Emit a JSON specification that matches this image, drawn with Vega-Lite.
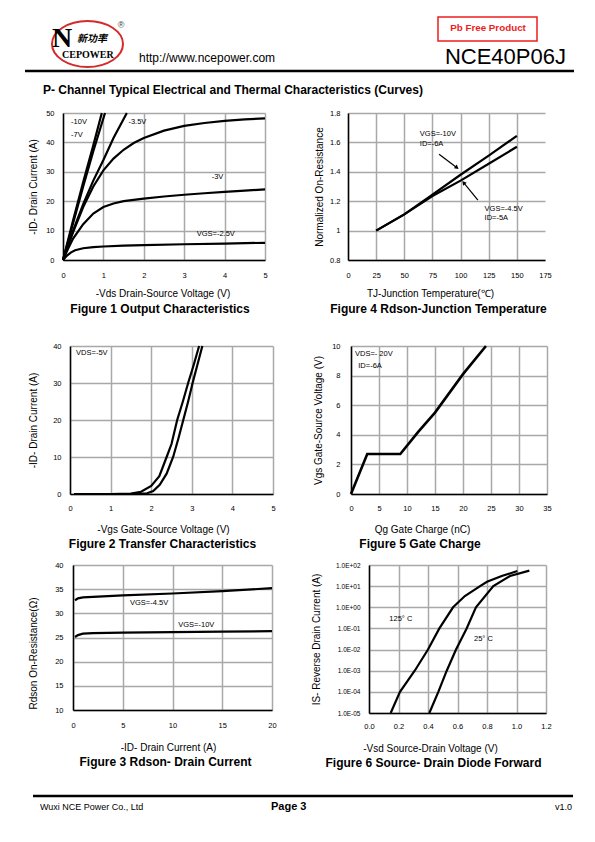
{
"$schema": "https://vega.github.io/schema/vega-lite/v6.json",
"padding": 0,
"background": "white",
"spacing": 0,
"vconcat": [
{
 "width": 595, "height": 108,
 "data": {"values": [{}]},
 "layer": [
  {"mark": {"type": "point", "shape": "M-1,0A1,0.648,0,1,1,1,0A1,0.648,0,1,1,-1,0Z", "size": 5041, "filled": false, "color": "#d42a2a", "strokeWidth": 2, "opacity": 1},
   "encoding": {"x": {"datum": 87.5, "type": "quantitative", "scale": {"domain": [0, 595], "nice": false}, "axis": null}, "y": {"datum": 44, "type": "quantitative", "scale": {"domain": [0, 108], "nice": false, "reverse": true}, "axis": null}}},
  {"mark": {"type": "text", "text": "N", "font": "Liberation Serif", "fontWeight": "bold", "fontSize": 28, "align": "left", "baseline": "alphabetic", "color": "#000"},
   "encoding": {"x": {"datum": 52, "type": "quantitative", "scale": {"domain": [0, 595], "nice": false}, "axis": null}, "y": {"datum": 47, "type": "quantitative", "scale": {"domain": [0, 108], "nice": false, "reverse": true}, "axis": null}}},
  {"mark": {"type": "text", "text": "新功率", "font": "Noto Sans CJK SC", "fontWeight": "bold", "fontStyle": "italic", "fontSize": 10, "align": "left", "baseline": "alphabetic", "color": "#000"},
   "encoding": {"x": {"datum": 77, "type": "quantitative", "scale": {"domain": [0, 595], "nice": false}, "axis": null}, "y": {"datum": 42, "type": "quantitative", "scale": {"domain": [0, 108], "nice": false, "reverse": true}, "axis": null}}},
  {"mark": {"type": "text", "text": "CEPOWER", "font": "Liberation Serif", "fontWeight": "bold", "fontSize": 10, "align": "left", "baseline": "alphabetic", "color": "#000"},
   "encoding": {"x": {"datum": 62, "type": "quantitative", "scale": {"domain": [0, 595], "nice": false}, "axis": null}, "y": {"datum": 58, "type": "quantitative", "scale": {"domain": [0, 108], "nice": false, "reverse": true}, "axis": null}}},
  {"mark": {"type": "text", "text": "®", "font": "Liberation Sans", "fontSize": 9, "align": "center", "baseline": "middle", "color": "#444"},
   "encoding": {"x": {"datum": 121, "type": "quantitative", "scale": {"domain": [0, 595], "nice": false}, "axis": null}, "y": {"datum": 25, "type": "quantitative", "scale": {"domain": [0, 108], "nice": false, "reverse": true}, "axis": null}}},
  {"mark": {"type": "text", "text": "http://www.ncepower.com", "font": "Liberation Sans", "fontSize": 12, "align": "left", "baseline": "alphabetic", "color": "#000"},
   "encoding": {"x": {"datum": 139, "type": "quantitative", "scale": {"domain": [0, 595], "nice": false}, "axis": null}, "y": {"datum": 61.5, "type": "quantitative", "scale": {"domain": [0, 108], "nice": false, "reverse": true}, "axis": null}}},
  {"mark": {"type": "rect", "filled": false, "color": "#ee1c1c", "strokeWidth": 1.5},
   "encoding": {"x": {"datum": 438, "type": "quantitative", "scale": {"domain": [0, 595], "nice": false}, "axis": null}, "x2": {"datum": 537}, "y": {"datum": 17, "type": "quantitative", "scale": {"domain": [0, 108], "nice": false, "reverse": true}, "axis": null}, "y2": {"datum": 41}}},
  {"mark": {"type": "text", "text": "Pb Free Product", "font": "Liberation Sans", "fontWeight": "bold", "fontSize": 9.8, "align": "center", "baseline": "alphabetic", "color": "#ee1c1c"},
   "encoding": {"x": {"datum": 488, "type": "quantitative", "scale": {"domain": [0, 595], "nice": false}, "axis": null}, "y": {"datum": 30.7, "type": "quantitative", "scale": {"domain": [0, 108], "nice": false, "reverse": true}, "axis": null}}},
  {"mark": {"type": "text", "text": "NCE40P06J", "font": "Liberation Sans", "fontSize": 22, "align": "right", "baseline": "alphabetic", "color": "#000"},
   "encoding": {"x": {"datum": 566, "type": "quantitative", "scale": {"domain": [0, 595], "nice": false}, "axis": null}, "y": {"datum": 64, "type": "quantitative", "scale": {"domain": [0, 108], "nice": false, "reverse": true}, "axis": null}}},
  {"mark": {"type": "rule", "strokeWidth": 2.5, "color": "#000"},
   "encoding": {"x": {"datum": 25, "type": "quantitative", "scale": {"domain": [0, 595], "nice": false}, "axis": null}, "x2": {"datum": 574}, "y": {"datum": 71, "type": "quantitative", "scale": {"domain": [0, 108], "nice": false, "reverse": true}, "axis": null}}},
  {"mark": {"type": "text", "text": "P- Channel Typical Electrical and Thermal Characteristics (Curves)", "font": "Liberation Sans", "fontWeight": "bold", "fontSize": 12, "align": "left", "baseline": "alphabetic", "color": "#000"},
   "encoding": {"x": {"datum": 43, "type": "quantitative", "scale": {"domain": [0, 595], "nice": false}, "axis": null}, "y": {"datum": 93.5, "type": "quantitative", "scale": {"domain": [0, 108], "nice": false, "reverse": true}, "axis": null}}}
 ]
},
{
 "bounds": "flush", "spacing": 0,
 "hconcat": [
  {"width": 63, "height": 227, "data": {"values": []}, "mark": "point"},
  {
   "width": 202, "height": 147,
   "title": {"text": "Figure 1 Output Characteristics", "dx": -4, "offset": 5},
   "encoding": {
    "x": {"field": "x", "type": "quantitative", "scale": {"domain": [0, 5], "nice": false}, "axis": {"title": "-Vds Drain-Source Voltage (V)", "values": [0, 1, 2, 3, 4, 5], "labelPadding": 11, "titlePadding": 10, "titleX": 99.5}},
    "y": {"field": "y", "type": "quantitative", "scale": {"domain": [0, 50], "nice": false}, "axis": {"title": "-ID- Drain Current (A)", "values": [0, 10, 20, 30, 40, 50], "labelPadding": 9, "titlePadding": 7}}
   },
   "layer": [
    {"data": {"values": [
     {"s": "-10V", "x": 0, "y": 0}, {"s": "-10V", "x": 0.25, "y": 13.5}, {"s": "-10V", "x": 0.5, "y": 26.5}, {"s": "-10V", "x": 0.75, "y": 39}, {"s": "-10V", "x": 0.96, "y": 50},
     {"s": "-7V", "x": 0, "y": 0}, {"s": "-7V", "x": 0.25, "y": 12.5}, {"s": "-7V", "x": 0.5, "y": 25}, {"s": "-7V", "x": 0.75, "y": 37}, {"s": "-7V", "x": 1.04, "y": 50},
     {"s": "-4.5V", "x": 0, "y": 0}, {"s": "-4.5V", "x": 0.25, "y": 10}, {"s": "-4.5V", "x": 0.5, "y": 19}, {"s": "-4.5V", "x": 0.75, "y": 27}, {"s": "-4.5V", "x": 1, "y": 34}, {"s": "-4.5V", "x": 1.25, "y": 41.5}, {"s": "-4.5V", "x": 1.58, "y": 50},
     {"s": "-3.5V", "x": 0, "y": 0}, {"s": "-3.5V", "x": 0.25, "y": 9.5}, {"s": "-3.5V", "x": 0.5, "y": 18}, {"s": "-3.5V", "x": 0.75, "y": 25}, {"s": "-3.5V", "x": 1, "y": 30.5}, {"s": "-3.5V", "x": 1.25, "y": 34.5}, {"s": "-3.5V", "x": 1.5, "y": 37.5}, {"s": "-3.5V", "x": 1.75, "y": 39.8}, {"s": "-3.5V", "x": 2, "y": 41.5}, {"s": "-3.5V", "x": 2.5, "y": 44}, {"s": "-3.5V", "x": 3, "y": 45.6}, {"s": "-3.5V", "x": 3.5, "y": 46.6}, {"s": "-3.5V", "x": 4, "y": 47.3}, {"s": "-3.5V", "x": 4.5, "y": 47.8}, {"s": "-3.5V", "x": 5, "y": 48.2},
     {"s": "-3V", "x": 0, "y": 0}, {"s": "-3V", "x": 0.125, "y": 3.8}, {"s": "-3V", "x": 0.25, "y": 7.3}, {"s": "-3V", "x": 0.5, "y": 12.2}, {"s": "-3V", "x": 0.75, "y": 15.8}, {"s": "-3V", "x": 1, "y": 18}, {"s": "-3V", "x": 1.25, "y": 19.2}, {"s": "-3V", "x": 1.5, "y": 20}, {"s": "-3V", "x": 2, "y": 20.9}, {"s": "-3V", "x": 2.5, "y": 21.6}, {"s": "-3V", "x": 3, "y": 22.2}, {"s": "-3V", "x": 3.5, "y": 22.7}, {"s": "-3V", "x": 4, "y": 23.2}, {"s": "-3V", "x": 4.5, "y": 23.6}, {"s": "-3V", "x": 5, "y": 24},
     {"s": "-2.5V", "x": 0, "y": 0}, {"s": "-2.5V", "x": 0.1, "y": 1.5}, {"s": "-2.5V", "x": 0.2, "y": 2.6}, {"s": "-2.5V", "x": 0.3, "y": 3.3}, {"s": "-2.5V", "x": 0.5, "y": 4}, {"s": "-2.5V", "x": 0.75, "y": 4.4}, {"s": "-2.5V", "x": 1, "y": 4.6}, {"s": "-2.5V", "x": 1.5, "y": 4.9}, {"s": "-2.5V", "x": 2, "y": 5.05}, {"s": "-2.5V", "x": 3, "y": 5.35}, {"s": "-2.5V", "x": 4, "y": 5.6}, {"s": "-2.5V", "x": 5, "y": 5.85}
    ]},
     "mark": {"type": "line", "color": "#000", "strokeWidth": 2.2}, "encoding": {"detail": {"field": "s", "type": "nominal"}}},
    {"data": {"values": [
     {"label": "-10V", "x": 0.2, "y": 47}, {"label": "-7V", "x": 0.2, "y": 42.4}, {"label": "-3.5V", "x": 1.62, "y": 47}, {"label": "-3V", "x": 3.68, "y": 28.2}, {"label": "VGS=-2.5V", "x": 3.31, "y": 8.9}
    ]},
     "mark": {"type": "text", "align": "left", "baseline": "middle", "fontSize": 7.5}, "encoding": {"text": {"field": "label"}}}
   ]
  },
  {"width": 83, "height": 1, "data": {"values": []}, "mark": "point"},
  {
   "width": 197, "height": 147,
   "title": {"text": "Figure 4 Rdson-Junction Temperature", "dx": -8, "offset": 5},
   "encoding": {
    "x": {"field": "x", "type": "quantitative", "scale": {"domain": [0, 175], "nice": false}, "axis": {"title": "TJ-Junction Temperature(℃)", "values": [0, 25, 50, 75, 100, 125, 150, 175], "labelPadding": 11, "titlePadding": 10, "titleX": 82, "gridOpacity": {"condition": {"test": "datum.value == 175", "value": 0}, "value": 1}}},
    "y": {"field": "y", "type": "quantitative", "scale": {"domain": [0.8, 1.8], "nice": false, "zero": false}, "axis": {"title": "Normalized On-Resistance", "values": [0.8, 1, 1.2, 1.4, 1.6, 1.8], "labelExpr": "format(datum.value, '~g')", "labelPadding": 8, "titlePadding": 5}}
   },
   "layer": [
    {"data": {"values": [
     {"s": "VGS=-10V", "x": 25, "y": 1.0}, {"s": "VGS=-10V", "x": 50, "y": 1.11}, {"s": "VGS=-10V", "x": 75, "y": 1.245}, {"s": "VGS=-10V", "x": 100, "y": 1.38}, {"s": "VGS=-10V", "x": 125, "y": 1.51}, {"s": "VGS=-10V", "x": 150, "y": 1.645},
     {"s": "VGS=-4.5V", "x": 25, "y": 1.0}, {"s": "VGS=-4.5V", "x": 50, "y": 1.11}, {"s": "VGS=-4.5V", "x": 75, "y": 1.235}, {"s": "VGS=-4.5V", "x": 100, "y": 1.34}, {"s": "VGS=-4.5V", "x": 125, "y": 1.455}, {"s": "VGS=-4.5V", "x": 150, "y": 1.57}
    ]},
     "mark": {"type": "line", "color": "#000", "strokeWidth": 2.2}, "encoding": {"detail": {"field": "s", "type": "nominal"}}},
    {"data": {"values": [
     {"a": 1, "x": 80.9, "y": 1.519, "x2": 96.8, "y2": 1.428}, {"a": 2, "x": 115.4, "y": 1.208, "x2": 102.7, "y2": 1.326}
    ]},
     "mark": {"type": "rule", "color": "#000", "strokeWidth": 1.2}, "encoding": {"x2": {"field": "x2"}, "y2": {"field": "y2"}}},
    {"data": {"values": [{"a": 1, "x": 96.8, "y": 1.428}]},
     "mark": {"type": "point", "shape": "triangle-right", "filled": true, "size": 22, "angle": 36.7, "color": "#000", "opacity": 1}},
    {"data": {"values": [{"a": 2, "x": 102.7, "y": 1.326}]},
     "mark": {"type": "point", "shape": "triangle-right", "filled": true, "size": 22, "angle": 230.4, "color": "#000", "opacity": 1}},
    {"data": {"values": [
     {"label": "VGS=-10V", "x": 63.8, "y": 1.655}, {"label": "ID=-6A", "x": 63.8, "y": 1.587}, {"label": "VGS=-4.5V", "x": 121.3, "y": 1.145}, {"label": "ID=-5A", "x": 121.3, "y": 1.084}
    ]},
     "mark": {"type": "text", "align": "left", "baseline": "middle", "fontSize": 7.5}, "encoding": {"text": {"field": "label"}}}
   ]
  }
 ]
},
{
 "bounds": "flush", "spacing": 0,
 "hconcat": [
  {"width": 70, "height": 215, "data": {"values": []}, "mark": "point"},
  {
   "width": 203, "height": 148,
   "title": {"text": "Figure 2 Transfer Characteristics", "dx": -9, "offset": 5},
   "encoding": {
    "x": {"field": "x", "type": "quantitative", "scale": {"domain": [0, 5], "nice": false}, "axis": {"title": "-Vgs Gate-Source Voltage (V)", "values": [0, 1, 2, 3, 4, 5], "labelPadding": 10, "titlePadding": 12.5, "titleX": 93}},
    "y": {"field": "y", "type": "quantitative", "scale": {"domain": [0, 40], "nice": false}, "axis": {"title": "-ID- Drain Current (A)", "values": [0, 10, 20, 30, 40], "labelPadding": 9, "titlePadding": 14.5}}
   },
   "layer": [
    {"data": {"values": [
     {"s": "A", "x": 0.1, "y": 0}, {"s": "A", "x": 1, "y": 0}, {"s": "A", "x": 1.5, "y": 0.1}, {"s": "A", "x": 1.75, "y": 0.6}, {"s": "A", "x": 2, "y": 2.2}, {"s": "A", "x": 2.2, "y": 4.8}, {"s": "A", "x": 2.38, "y": 10}, {"s": "A", "x": 2.5, "y": 13.5}, {"s": "A", "x": 2.64, "y": 20}, {"s": "A", "x": 2.78, "y": 25}, {"s": "A", "x": 2.91, "y": 30}, {"s": "A", "x": 3.05, "y": 35}, {"s": "A", "x": 3.18, "y": 40},
     {"s": "B", "x": 0.1, "y": 0}, {"s": "B", "x": 1.5, "y": 0}, {"s": "B", "x": 1.9, "y": 0.2}, {"s": "B", "x": 2.05, "y": 0.8}, {"s": "B", "x": 2.21, "y": 2.5}, {"s": "B", "x": 2.38, "y": 5.5}, {"s": "B", "x": 2.54, "y": 10}, {"s": "B", "x": 2.67, "y": 15}, {"s": "B", "x": 2.79, "y": 20}, {"s": "B", "x": 2.91, "y": 25}, {"s": "B", "x": 3.02, "y": 30}, {"s": "B", "x": 3.14, "y": 35}, {"s": "B", "x": 3.26, "y": 40}
    ]},
     "mark": {"type": "line", "color": "#000", "strokeWidth": 2.2}, "encoding": {"detail": {"field": "s", "type": "nominal"}}},
    {"data": {"values": [{"label": "VDS=-5V", "x": 0.15, "y": 38}]},
     "mark": {"type": "text", "align": "left", "baseline": "middle", "fontSize": 7.5}, "encoding": {"text": {"field": "label"}}}
   ]
  },
  {"width": 78, "height": 1, "data": {"values": []}, "mark": "point"},
  {
   "width": 196, "height": 148,
   "title": {"text": "Figure 5 Gate Charge", "dx": -29, "offset": 5},
   "encoding": {
    "x": {"field": "x", "type": "quantitative", "scale": {"domain": [0, 35], "nice": false}, "axis": {"title": "Qg Gate Charge (nC)", "values": [0, 5, 10, 15, 20, 25, 30, 35], "labelPadding": 10, "titlePadding": 12.5, "titleX": 71}},
    "y": {"field": "y", "type": "quantitative", "scale": {"domain": [0, 10], "nice": false}, "axis": {"title": "Vgs Gate-Source Voltage (V)", "values": [0, 2, 4, 6, 8, 10], "labelPadding": 11, "titlePadding": 8}}
   },
   "layer": [
    {"data": {"values": [
     {"s": "Qg", "x": 0, "y": 0}, {"s": "Qg", "x": 2.9, "y": 2.7}, {"s": "Qg", "x": 8.8, "y": 2.7}, {"s": "Qg", "x": 12, "y": 4.2}, {"s": "Qg", "x": 15, "y": 5.5}, {"s": "Qg", "x": 20, "y": 8.1}, {"s": "Qg", "x": 24.1, "y": 10}
    ]},
     "mark": {"type": "line", "color": "#000", "strokeWidth": 2.6}, "encoding": {"detail": {"field": "s", "type": "nominal"}}},
    {"data": {"values": [{"label": "VDS=- 20V", "x": 0.71, "y": 9.44}, {"label": "ID=-6A", "x": 1.3, "y": 8.67}]},
     "mark": {"type": "text", "align": "left", "baseline": "middle", "fontSize": 7.5}, "encoding": {"text": {"field": "label"}}}
   ]
  }
 ]
},
{
 "bounds": "flush", "spacing": 0,
 "hconcat": [
  {"width": 73, "height": 210, "data": {"values": []}, "mark": "point"},
  {
   "width": 199, "height": 145,
   "title": {"text": "Figure 3 Rdson- Drain Current", "dx": -7, "offset": 5},
   "encoding": {
    "x": {"field": "x", "type": "quantitative", "scale": {"domain": [0, 20], "nice": false}, "axis": {"title": "-ID- Drain Current (A)", "values": [0, 5, 10, 15, 20], "labelPadding": 11, "titlePadding": 13.5, "titleX": 95}},
    "y": {"field": "y", "type": "quantitative", "scale": {"domain": [10, 40], "nice": false, "zero": false}, "axis": {"title": "Rdson On-Resistance(Ω)", "values": [10, 15, 20, 25, 30, 35, 40], "labelPadding": 10, "titlePadding": 16.5, "titleY": 88}}
   },
   "layer": [
    {"data": {"values": [
     {"s": "VGS=-4.5V", "x": 0.2, "y": 32.7}, {"s": "VGS=-4.5V", "x": 0.5, "y": 33.1}, {"s": "VGS=-4.5V", "x": 1, "y": 33.3}, {"s": "VGS=-4.5V", "x": 2, "y": 33.4}, {"s": "VGS=-4.5V", "x": 5, "y": 33.7}, {"s": "VGS=-4.5V", "x": 10, "y": 34.1}, {"s": "VGS=-4.5V", "x": 15, "y": 34.6}, {"s": "VGS=-4.5V", "x": 20, "y": 35.2},
     {"s": "VGS=-10V", "x": 0.2, "y": 25.1}, {"s": "VGS=-10V", "x": 0.5, "y": 25.5}, {"s": "VGS=-10V", "x": 1, "y": 25.8}, {"s": "VGS=-10V", "x": 2, "y": 25.9}, {"s": "VGS=-10V", "x": 5, "y": 26}, {"s": "VGS=-10V", "x": 10, "y": 26.1}, {"s": "VGS=-10V", "x": 15, "y": 26.2}, {"s": "VGS=-10V", "x": 20, "y": 26.3}
    ]},
     "mark": {"type": "line", "color": "#000", "strokeWidth": 2.2}, "encoding": {"detail": {"field": "s", "type": "nominal"}}},
    {"data": {"values": [{"label": "VGS=-4.5V", "x": 5.73, "y": 32.2}, {"label": "VGS=-10V", "x": 10.58, "y": 27.6}]},
     "mark": {"type": "text", "align": "left", "baseline": "middle", "fontSize": 7.5}, "encoding": {"text": {"field": "label"}}}
   ]
  },
  {"width": 97, "height": 1, "data": {"values": []}, "mark": "point"},
  {
   "width": 177, "height": 148,
   "title": {"text": "Figure 6 Source- Drain Diode Forward", "dx": -24, "offset": 5},
   "encoding": {
    "x": {"field": "x", "type": "quantitative", "scale": {"domain": [0, 1.2], "nice": false}, "axis": {"title": "-Vsd Source-Drain Voltage (V)", "values": [0, 0.2, 0.4, 0.6, 0.8, 1.0, 1.2], "format": ".1f", "labelPadding": 9, "titlePadding": 13.5, "titleX": 61}},
    "y": {"field": "y", "type": "quantitative", "scale": {"type": "log", "domain": [0.00001, 100], "nice": false}, "axis": {"title": "IS- Reverse Drain Current (A)", "values": [0.00001, 0.0001, 0.001, 0.01, 0.1, 1, 10, 100], "labelExpr": "'1.0E' + (log(datum.value) / LN10 > -0.01 ? '+0' : '-0') + abs(round(log(datum.value) / LN10))", "labelFontSize": 6.5, "labelPadding": 9, "titlePadding": 13.7}}
   },
   "layer": [
    {"data": {"values": [
     {"s": "125C", "x": 0.147, "y": 0.00001}, {"s": "125C", "x": 0.21, "y": 0.0001}, {"s": "125C", "x": 0.31, "y": 0.001}, {"s": "125C", "x": 0.4, "y": 0.01}, {"s": "125C", "x": 0.477, "y": 0.1}, {"s": "125C", "x": 0.57, "y": 1}, {"s": "125C", "x": 0.65, "y": 3.4}, {"s": "125C", "x": 0.753, "y": 10}, {"s": "125C", "x": 0.8, "y": 16}, {"s": "125C", "x": 0.9, "y": 30}, {"s": "125C", "x": 1.006, "y": 52},
     {"s": "25C", "x": 0.409, "y": 0.00001}, {"s": "25C", "x": 0.47, "y": 0.0001}, {"s": "25C", "x": 0.527, "y": 0.001}, {"s": "25C", "x": 0.59, "y": 0.01}, {"s": "25C", "x": 0.662, "y": 0.1}, {"s": "25C", "x": 0.725, "y": 1}, {"s": "25C", "x": 0.843, "y": 10}, {"s": "25C", "x": 0.956, "y": 30}, {"s": "25C", "x": 1.087, "y": 54}
    ]},
     "mark": {"type": "line", "color": "#000", "strokeWidth": 2.2}, "encoding": {"detail": {"field": "s", "type": "nominal"}}},
    {"data": {"values": [{"label": "125° C", "x": 0.138, "y": 0.27}, {"label": "25° C", "x": 0.712, "y": 0.0327}]},
     "mark": {"type": "text", "align": "left", "baseline": "middle", "fontSize": 7.5}, "encoding": {"text": {"field": "label"}}}
   ]
  }
 ]
},
{
 "width": 595, "height": 70,
 "data": {"values": [{}]},
 "layer": [
  {"mark": {"type": "rule", "strokeWidth": 2.5, "color": "#000"},
   "encoding": {"x": {"datum": 33, "type": "quantitative", "scale": {"domain": [0, 595], "nice": false}, "axis": null}, "x2": {"datum": 573}, "y": {"datum": 21, "type": "quantitative", "scale": {"domain": [0, 70], "nice": false, "reverse": true}, "axis": null}}},
  {"mark": {"type": "text", "text": "Wuxi NCE Power Co., Ltd", "font": "Liberation Sans", "fontSize": 9, "align": "left", "baseline": "alphabetic", "color": "#000"},
   "encoding": {"x": {"datum": 40, "type": "quantitative", "scale": {"domain": [0, 595], "nice": false}, "axis": null}, "y": {"datum": 35, "type": "quantitative", "scale": {"domain": [0, 70], "nice": false, "reverse": true}, "axis": null}}},
  {"mark": {"type": "text", "text": "Page 3", "font": "Liberation Sans", "fontWeight": "bold", "fontSize": 11, "align": "left", "baseline": "alphabetic", "color": "#000"},
   "encoding": {"x": {"datum": 271, "type": "quantitative", "scale": {"domain": [0, 595], "nice": false}, "axis": null}, "y": {"datum": 35, "type": "quantitative", "scale": {"domain": [0, 70], "nice": false, "reverse": true}, "axis": null}}},
  {"mark": {"type": "text", "text": "v1.0", "font": "Liberation Sans", "fontSize": 9, "align": "right", "baseline": "alphabetic", "color": "#000"},
   "encoding": {"x": {"datum": 572, "type": "quantitative", "scale": {"domain": [0, 595], "nice": false}, "axis": null}, "y": {"datum": 35, "type": "quantitative", "scale": {"domain": [0, 70], "nice": false, "reverse": true}, "axis": null}}}
 ]
}
],
"config": {
 "view": {"stroke": null},
 "font": "Liberation Sans",
 "axis": {"labelFont": "Liberation Sans", "labelFontSize": 7.5, "labelColor": "#000", "titleFont": "Liberation Sans", "titleFontSize": 10, "titleFontWeight": "normal", "titleColor": "#000", "tickSize": 0, "ticks": false, "domainColor": "#000", "domainWidth": 1.5, "gridColor": "#a8a8a8", "gridWidth": 1.5, "grid": true, "labelFlush": false, "labelOverlap": false},
 "title": {"font": "Liberation Sans", "fontSize": 12, "fontWeight": "bold", "color": "#000", "orient": "bottom", "anchor": "middle"},
 "text": {"font": "Liberation Sans", "color": "#000"}
}
}
